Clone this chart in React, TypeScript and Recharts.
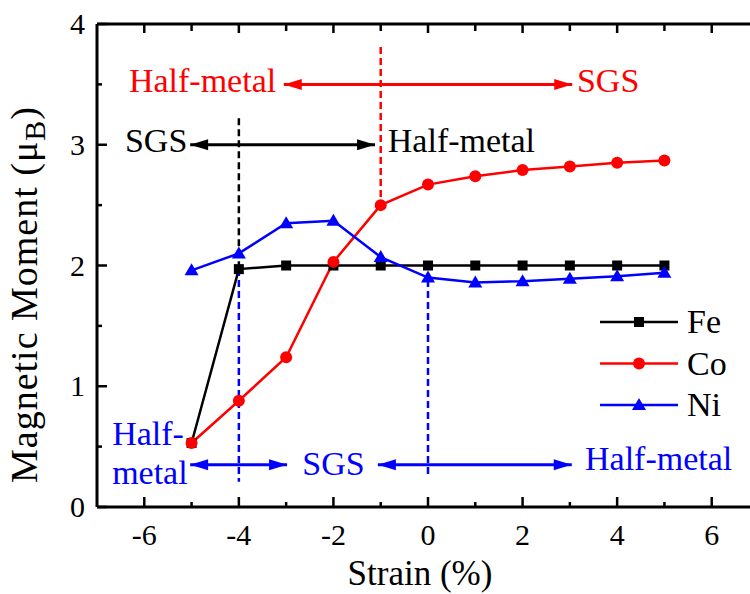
import { ComposedChart, Line, XAxis, YAxis, ReferenceLine, ReferenceDot, Legend } from 'recharts';

const strain = [-5, -4, -3, -2, -1, 0, 1, 2, 3, 4, 5];
const fe = [0.53, 1.97, 2.0, 2.0, 2.0, 2.0, 2.0, 2.0, 2.0, 2.0, 2.0];
const co = [0.53, 0.88, 1.24, 2.03, 2.5, 2.67, 2.74, 2.79, 2.82, 2.85, 2.87];
const ni = [1.96, 2.1, 2.35, 2.37, 2.07, 1.9, 1.86, 1.87, 1.89, 1.91, 1.94];

const xTicks = [-6, -5, -4, -3, -2, -1, 0, 1, 2, 3, 4, 5, 6];
const yTicks = [0, 0.5, 1, 1.5, 2, 2.5, 3, 3.5, 4];

const RED = '#ff0000';
const BLUE = '#0000ff';
const BLACK = '#000000';
const FONT = 'Liberation Serif, DejaVu Serif, serif';
const txt = { fontFamily: FONT };

// dashed boundaries between regimes
const dashedLines = [
  { x: -1, from: 3.81, to: 2.5, color: RED },
  { x: -4, from: 3.22, to: 2.0, color: BLACK },
  { x: -4, from: 1.97, to: 0.21, color: BLUE },
  { x: 0, from: 1.88, to: 0.25, color: BLUE },
];

// double headed arrows
const arrows = [
  { y: 3.5, from: -3.05, to: 3.05, color: RED },
  { y: 3.0, from: -5.03, to: -1.12, color: BLACK },
  { y: 0.35, from: -5.03, to: -2.98, color: BLUE },
  { y: 0.35, from: -1.06, to: 3.04, color: BLUE },
];

const notes = [
  { text: 'Half-metal', x: -3.21, y: 3.44, anchor: 'end', color: RED },
  { text: 'SGS', x: 3.15, y: 3.44, anchor: 'start', color: RED },
  { text: 'SGS', x: -5.09, y: 2.94, anchor: 'end', color: BLACK },
  { text: 'Half-metal', x: -0.85, y: 2.94, anchor: 'start', color: BLACK },
  { text: 'Half-', x: -6.68, y: 0.513, anchor: 'start', color: BLUE },
  { text: 'metal', x: -6.68, y: 0.19, anchor: 'start', color: BLUE },
  { text: 'SGS', x: -2.66, y: 0.265, anchor: 'start', color: BLUE },
  { text: 'Half-metal', x: 3.32, y: 0.31, anchor: 'start', color: BLUE },
];

const data = strain.map((s, i) => ({ strain: s, Fe: fe[i], Co: co[i], Ni: ni[i] }));

const drawMarker = (kind: string, cx: number, cy: number, color: string, key?: any) => {
  if (kind === 'square') return <rect key={key} x={cx - 5} y={cy - 5} width={10} height={10} fill={color} />;
  if (kind === 'circle') return <circle key={key} cx={cx} cy={cy} r={6} fill={color} />;
  return <polygon key={key} points={`${cx},${cy - 7} ${cx + 7},${cy + 5} ${cx - 7},${cy + 5}`} fill={color} />;
};

const series = [
  { key: 'Fe', color: BLACK, marker: 'square' },
  { key: 'Co', color: RED, marker: 'circle' },
  { key: 'Ni', color: BLUE, marker: 'triangle' },
];

const BottomTick = (props: any) => {
  const { x, y, payload } = props;
  const major = payload.value % 2 === 0;
  return (
    <g>
      <line x1={x} y1={y} x2={x} y2={y - (major ? 10 : 5)} stroke={BLACK} strokeWidth={2.5} />
      {major && (
        <text x={x} y={y + 38} textAnchor="middle" style={txt} fontSize={30} fill={BLACK}>
          {payload.value}
        </text>
      )}
    </g>
  );
};

const TopTick = (props: any) => {
  const { x, y, payload } = props;
  const major = payload.value % 2 === 0;
  return <line x1={x} y1={y} x2={x} y2={y + (major ? 9 : 7)} stroke={BLACK} strokeWidth={2.5} />;
};

const LeftTick = (props: any) => {
  const { x, y, payload } = props;
  const major = Number.isInteger(payload.value);
  return (
    <g>
      <line x1={x} y1={y} x2={x + (major ? 10 : 5)} y2={y} stroke={BLACK} strokeWidth={2.5} />
      {major && (
        <text x={x - 12} y={y + 10} textAnchor="end" style={txt} fontSize={30} fill={BLACK}>
          {payload.value}
        </text>
      )}
    </g>
  );
};

const RightTick = (props: any) => {
  const { x, y, payload } = props;
  const major = Number.isInteger(payload.value);
  return <line x1={x} y1={y} x2={x - (major ? 10 : 5)} y2={y} stroke={BLACK} strokeWidth={2.5} />;
};

const XTitle = (props: any) => {
  const { x, y, width } = props.viewBox;
  return (
    <text x={x + width / 2 - 8} y={y + 78} textAnchor="middle" style={txt} fontSize={35} fill={BLACK}>
      Strain (%)
    </text>
  );
};

const YTitle = (props: any) => {
  const { x, y, height } = props.viewBox;
  const bx = x;
  const by = y + height - 24;
  return (
    <text
      x={bx}
      y={by}
      transform={`rotate(-90, ${bx}, ${by})`}
      textAnchor="start"
      style={{ ...txt, letterSpacing: 1 }}
      fontSize={38}
      fill={BLACK}
    >
      <tspan>Magnetic Moment (μ</tspan>
      <tspan fontSize={30} dy={8}>B</tspan>
      <tspan dy={-8}>)</tspan>
    </text>
  );
};

const arrowHead = (dir: number, color: string) => (p: any) => {
  const { cx, cy } = p;
  return (
    <polygon
      points={`${cx},${cy} ${cx - dir * 18},${cy - 5.5} ${cx - dir * 18},${cy + 5.5}`}
      fill={color}
    />
  );
};

const noteShape = (n: any) => (p: any) => (
  <text x={p.cx} y={p.cy} textAnchor={n.anchor} style={txt} fontSize={34} fill={n.color}>
    {n.text}
  </text>
);

const renderLegend = () => (
  <svg width={150} height={130}>
    {series.map((s, i) => {
      const cy = 22 + i * 41.5;
      return (
        <g key={s.key}>
          <line x1={2} y1={cy} x2={80} y2={cy} stroke={s.color} strokeWidth={2.5} />
          {drawMarker(s.marker, 41, cy, s.color)}
          <text x={89} y={cy + 11} style={txt} fontSize={34} fill={BLACK}>
            {s.key}
          </text>
        </g>
      );
    })}
  </svg>
);

export default function App() {
  return (
    <div style={{ position: 'fixed', left: 0, top: 0, width: 750, height: 594, overflow: 'hidden', background: '#fff', fontFamily: FONT }}>
      <ComposedChart width={790} height={594} data={data} margin={{ top: 14, right: 21, bottom: 27, left: 37 }}>
        <XAxis
          dataKey="strain"
          type="number"
          domain={[-7, 7]}
          ticks={xTicks}
          interval={0}
          tickSize={0}
          tickMargin={0}
          tickLine={false}
          tick={<BottomTick />}
          height={60}
          axisLine={{ stroke: BLACK, strokeWidth: 3 }}
          label={{ content: (p: any) => <XTitle {...p} /> }}
        />
        <XAxis
          xAxisId="top"
          orientation="top"
          dataKey="strain"
          type="number"
          domain={[-7, 7]}
          ticks={xTicks}
          interval={0}
          tickSize={0}
          tickMargin={0}
          tickLine={false}
          tick={<TopTick />}
          height={10}
          axisLine={{ stroke: BLACK, strokeWidth: 3 }}
        />
        <YAxis
          type="number"
          domain={[0, 4]}
          ticks={yTicks}
          interval={0}
          tickSize={0}
          tickMargin={0}
          tickLine={false}
          tick={<LeftTick />}
          width={60}
          axisLine={{ stroke: BLACK, strokeWidth: 3 }}
          label={{ content: (p: any) => <YTitle {...p} /> }}
        />
        <YAxis
          yAxisId="right"
          orientation="right"
          type="number"
          domain={[0, 4]}
          ticks={yTicks}
          interval={0}
          tickSize={0}
          tickMargin={0}
          tickLine={false}
          tick={<RightTick />}
          width={10}
          axisLine={{ stroke: BLACK, strokeWidth: 3 }}
        />
        <Legend
          layout="vertical"
          align="center"
          verticalAlign="middle"
          content={renderLegend}
          wrapperStyle={{ left: 598, top: 300, width: 150, height: 130 }}
        />
        {series.map((s) => (
          <Line
            key={s.key}
            dataKey={s.key}
            stroke={s.color}
            strokeWidth={2.5}
            isAnimationActive={false}
            dot={(p: any) => drawMarker(s.marker, p.cx, p.cy, s.color, `${s.key}-${p.index}`)}
            activeDot={false}
          />
        ))}
        {dashedLines.map((d, i) => (
          <ReferenceLine
            key={`d${i}`}
            segment={[{ x: d.x, y: d.from }, { x: d.x, y: d.to }]}
            stroke={d.color}
            strokeWidth={2.5}
            strokeDasharray="7 4"
          />
        ))}
        {arrows.map((a, i) => (
          <ReferenceLine
            key={`a${i}`}
            segment={[{ x: a.from, y: a.y }, { x: a.to, y: a.y }]}
            stroke={a.color}
            strokeWidth={3}
          />
        ))}
        {arrows.map((a, i) => (
          <ReferenceDot key={`al${i}`} x={a.from} y={a.y} shape={arrowHead(-1, a.color)} />
        ))}
        {arrows.map((a, i) => (
          <ReferenceDot key={`ar${i}`} x={a.to} y={a.y} shape={arrowHead(1, a.color)} />
        ))}
        {notes.map((n, i) => (
          <ReferenceDot key={`n${i}`} x={n.x} y={n.y} shape={noteShape(n)} />
        ))}
      </ComposedChart>
    </div>
  );
}
